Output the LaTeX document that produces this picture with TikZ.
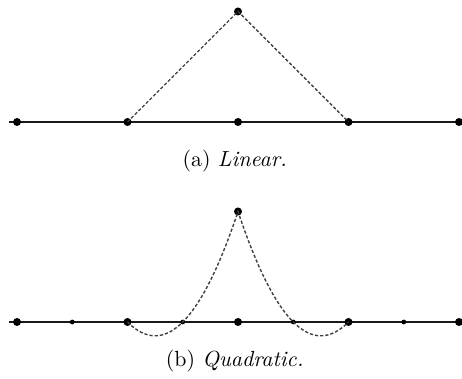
\documentclass[tikz,border=0pt]{standalone}

\begin{document}
\begin{tikzpicture}[x=55.25pt, y=55.25pt,
    font=\fontsize{10.95}{13.6}\selectfont,
    bigdot/.style={circle, fill=black, inner sep=0pt, minimum size=4pt},
    smalldot/.style={circle, fill=black, inner sep=0pt, minimum size=2.4pt},
    axisline/.style={black!90, line width=0.6pt},
    basis/.style={black!75, line width=0.7pt, dash pattern=on 1.6pt off 1pt}]
    \useasboundingbox (-0.154,-2.317) rectangle (4.027,1.104);

    % Linear element
    \draw[axisline] (-0.072,0) -- (4.027,0);
    \foreach \i in {0,...,4} \node[bigdot] (a\i) at (\i,0) {};
    \node[bigdot] (apeak) at (2,1) {};
    \draw[basis] (a1.center) -- (apeak.center) -- (a3.center);
    \node (capa) at (1.97,-0.353) {(a) \textit{Linear.}};

    % Quadratic element
    \draw[axisline] (-0.072,-1.81) -- (4.027,-1.81);
    \foreach \i in {0,...,4} \node[bigdot] (b\i) at (\i,-1.81) {};
    \foreach \i in {0,...,3} \node[smalldot] (m\i) at (\i+0.5,-1.81) {};
    \node[bigdot] (bpeak) at (2,-0.81) {};
    \draw[basis] plot[domain=1:2, samples=50] (\x,{-1.81+2*(\x-1)*(\x-1.5)})
        -- plot[domain=2:3, samples=50] (\x,{-1.81+2*(3-\x)*(2.5-\x)});
    \node (capb) at (1.97,-2.167) {(b) \textit{Quadratic.}};
\end{tikzpicture}
\end{document}
